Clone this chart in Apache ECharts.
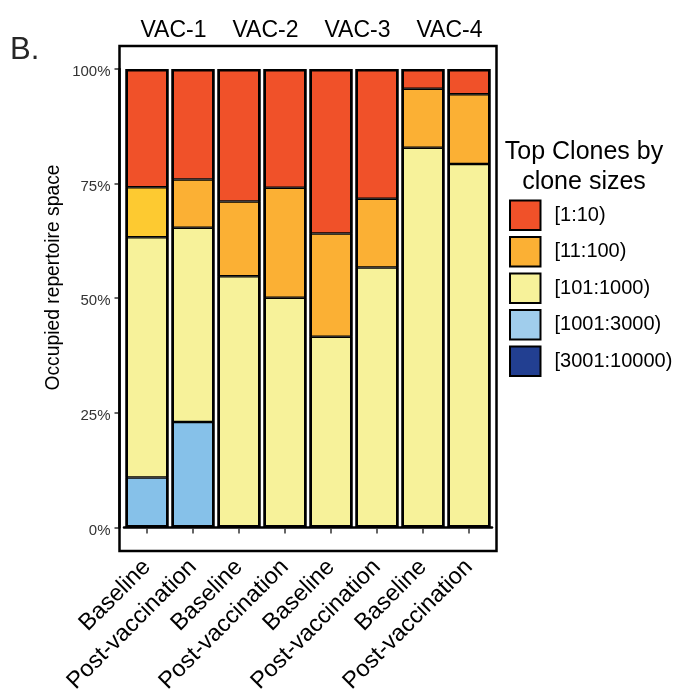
<!DOCTYPE html>
<html>
<head>
<meta charset="utf-8">
<script src="https://cdn.jsdelivr.net/npm/echarts@6/dist/echarts.min.js"></script>
<style>
html,body{margin:0;padding:0;background:#fff;}
#chart{width:676px;height:696px;}
</style>
</head>
<body>
<div id="chart"></div>
<script>
// ---- data ----
var categories = ['Baseline','Post-vaccination','Baseline','Post-vaccination','Baseline','Post-vaccination','Baseline','Post-vaccination'];
var facets = ['VAC-1','VAC-2','VAC-3','VAC-4'];
var yTicks = [0, 25, 50, 75, 100];
var seriesNames = ['[1:10)','[11:100)','[101:1000)','[1001:3000)','[3001:10000)'];
var s1to10      = [25.8, 24.1, 28.9, 25.9, 35.9, 28.3, 4.3, 5.5];
var s11to100    = [10.9, 10.5, 16.3, 24.0, 22.5, 15.0, 12.9, 15.2];
var s101to1000  = [52.4, 42.4, 54.8, 50.1, 41.6, 56.7, 82.8, 79.3];
var s1001to3000 = [10.9, 23.0, 0, 0, 0, 0, 0, 0];
var s3001to10000= [0, 0, 0, 0, 0, 0, 0, 0];

var FONT = '"Liberation Sans", Arial, Helvetica, sans-serif';
var colors = {
  '[1:10)': '#F05129',
  '[11:100)': '#FBB034',
  '[101:1000)': '#F7F29A',
  '[1001:3000)': '#A0CDEC',
  '[3001:10000)': '#223F91'
};
var barBlue = '#86C1E9';
var firstOrange = '#FDCA31';
var BAR_W = 43;

var totals = categories.map(function (_, i) {
  return s1to10[i] + s11to100[i] + s101to1000[i] + s1001to3000[i] + s3001to10000[i];
});

function mkSeries(name, vals, itemColorFn) {
  return {
    name: name,
    type: 'bar',
    stack: 'total',
    barWidth: BAR_W,
    barGap: '-100%',
    itemStyle: { color: colors[name], borderColor: '#000', borderWidth: 1.25 },
    data: vals.map(function (v, i) {
      var c = itemColorFn ? itemColorFn(i) : null;
      return c ? { value: v, itemStyle: { color: c } } : v;
    })
  };
}

var chart = echarts.init(document.getElementById('chart'), null, { renderer: 'canvas' });
var option = {
  backgroundColor: '#fff',
  animation: false,
  textStyle: { fontFamily: FONT },
  grid: { left: 124, width: 368, top: 69, height: 460 },
  xAxis: [
    {
      type: 'category',
      data: categories,
      position: 'bottom',
      offset: 22,
      axisLine: { show: true, lineStyle: { color: '#000', width: 2.5 } },
      axisTick: { show: true, alignWithLabel: true, length: 6, lineStyle: { color: '#333', width: 1.5 } },
      axisLabel: {
        rotate: 45, interval: 0, margin: 14,
        align: 'right', verticalAlign: 'middle',
        fontSize: 23.5, color: '#000', fontFamily: FONT
      },
      splitLine: { show: false }
    },
    {
      type: 'category',
      data: facets,
      position: 'top',
      offset: 23,
      axisLine: { show: false },
      axisTick: { show: false },
      axisLabel: { fontSize: 23, color: '#000', margin: 4, fontFamily: FONT, padding: [0, 0, 0, 7] },
      splitLine: { show: false }
    }
  ],
  yAxis: {
    type: 'value',
    min: yTicks[0], max: yTicks[yTicks.length - 1], interval: 25,
    offset: 4.5,
    axisLine: { show: true, lineStyle: { color: '#000', width: 2.5 } },
    axisTick: { show: true, length: 5, lineStyle: { color: '#333', width: 1.5 } },
    axisLabel: { formatter: '{value}%', fontSize: 15, color: '#333', margin: 9, fontFamily: FONT,
      verticalAlign: 'top', lineHeight: 6 },
    splitLine: { show: false }
  },
  legend: {
    orient: 'vertical',
    left: 509, top: 199.5,
    padding: 0,
    itemWidth: 30.5, itemHeight: 29.5, itemGap: 5,
    icon: 'rect',
    data: seriesNames,
    selectedMode: false,
    textStyle: { fontSize: 20, color: '#000', fontFamily: FONT, padding: [0, 0, 0, 9] }
  },
  graphic: [
    { type: 'rect', shape: { x: 119.5, y: 46, width: 377, height: 505 },
      style: { fill: 'none', stroke: '#000', lineWidth: 2.5 }, z: 100, silent: true },
    { type: 'text', x: 10, y: 66, style: { text: 'B.', fontSize: 31, fill: '#262626', fontFamily: FONT, textVerticalAlign: 'bottom' } },
    { type: 'text', x: 54, y: 277.5, rotation: Math.PI / 2,
      style: { text: 'Occupied repertoire space', fontSize: 19.3, fill: '#000', fontFamily: FONT, textAlign: 'center', textVerticalAlign: 'middle' } },
    { type: 'text', x: 584, y: 137,
      style: { text: 'Top Clones by\nclone sizes', fontSize: 25, lineHeight: 30, fill: '#000', fontFamily: FONT, textAlign: 'center' } }
  ],
  series: [
    mkSeries('[3001:10000)', s3001to10000),
    mkSeries('[1001:3000)', s1001to3000, function (i) { return s1001to3000[i] > 0 ? barBlue : null; }),
    mkSeries('[101:1000)', s101to1000),
    mkSeries('[11:100)', s11to100, function (i) { return i === 0 ? firstOrange : null; }),
    mkSeries('[1:10)', s1to10),
    {
      name: 'outline',
      type: 'bar',
      barWidth: BAR_W,
      barGap: '-100%',
      silent: true,
      z: 5,
      itemStyle: { color: 'rgba(0,0,0,0)', borderColor: '#000', borderWidth: 2.5 },
      data: totals
    }
  ]
};
chart.setOption(option);
</script>
</body>
</html>
